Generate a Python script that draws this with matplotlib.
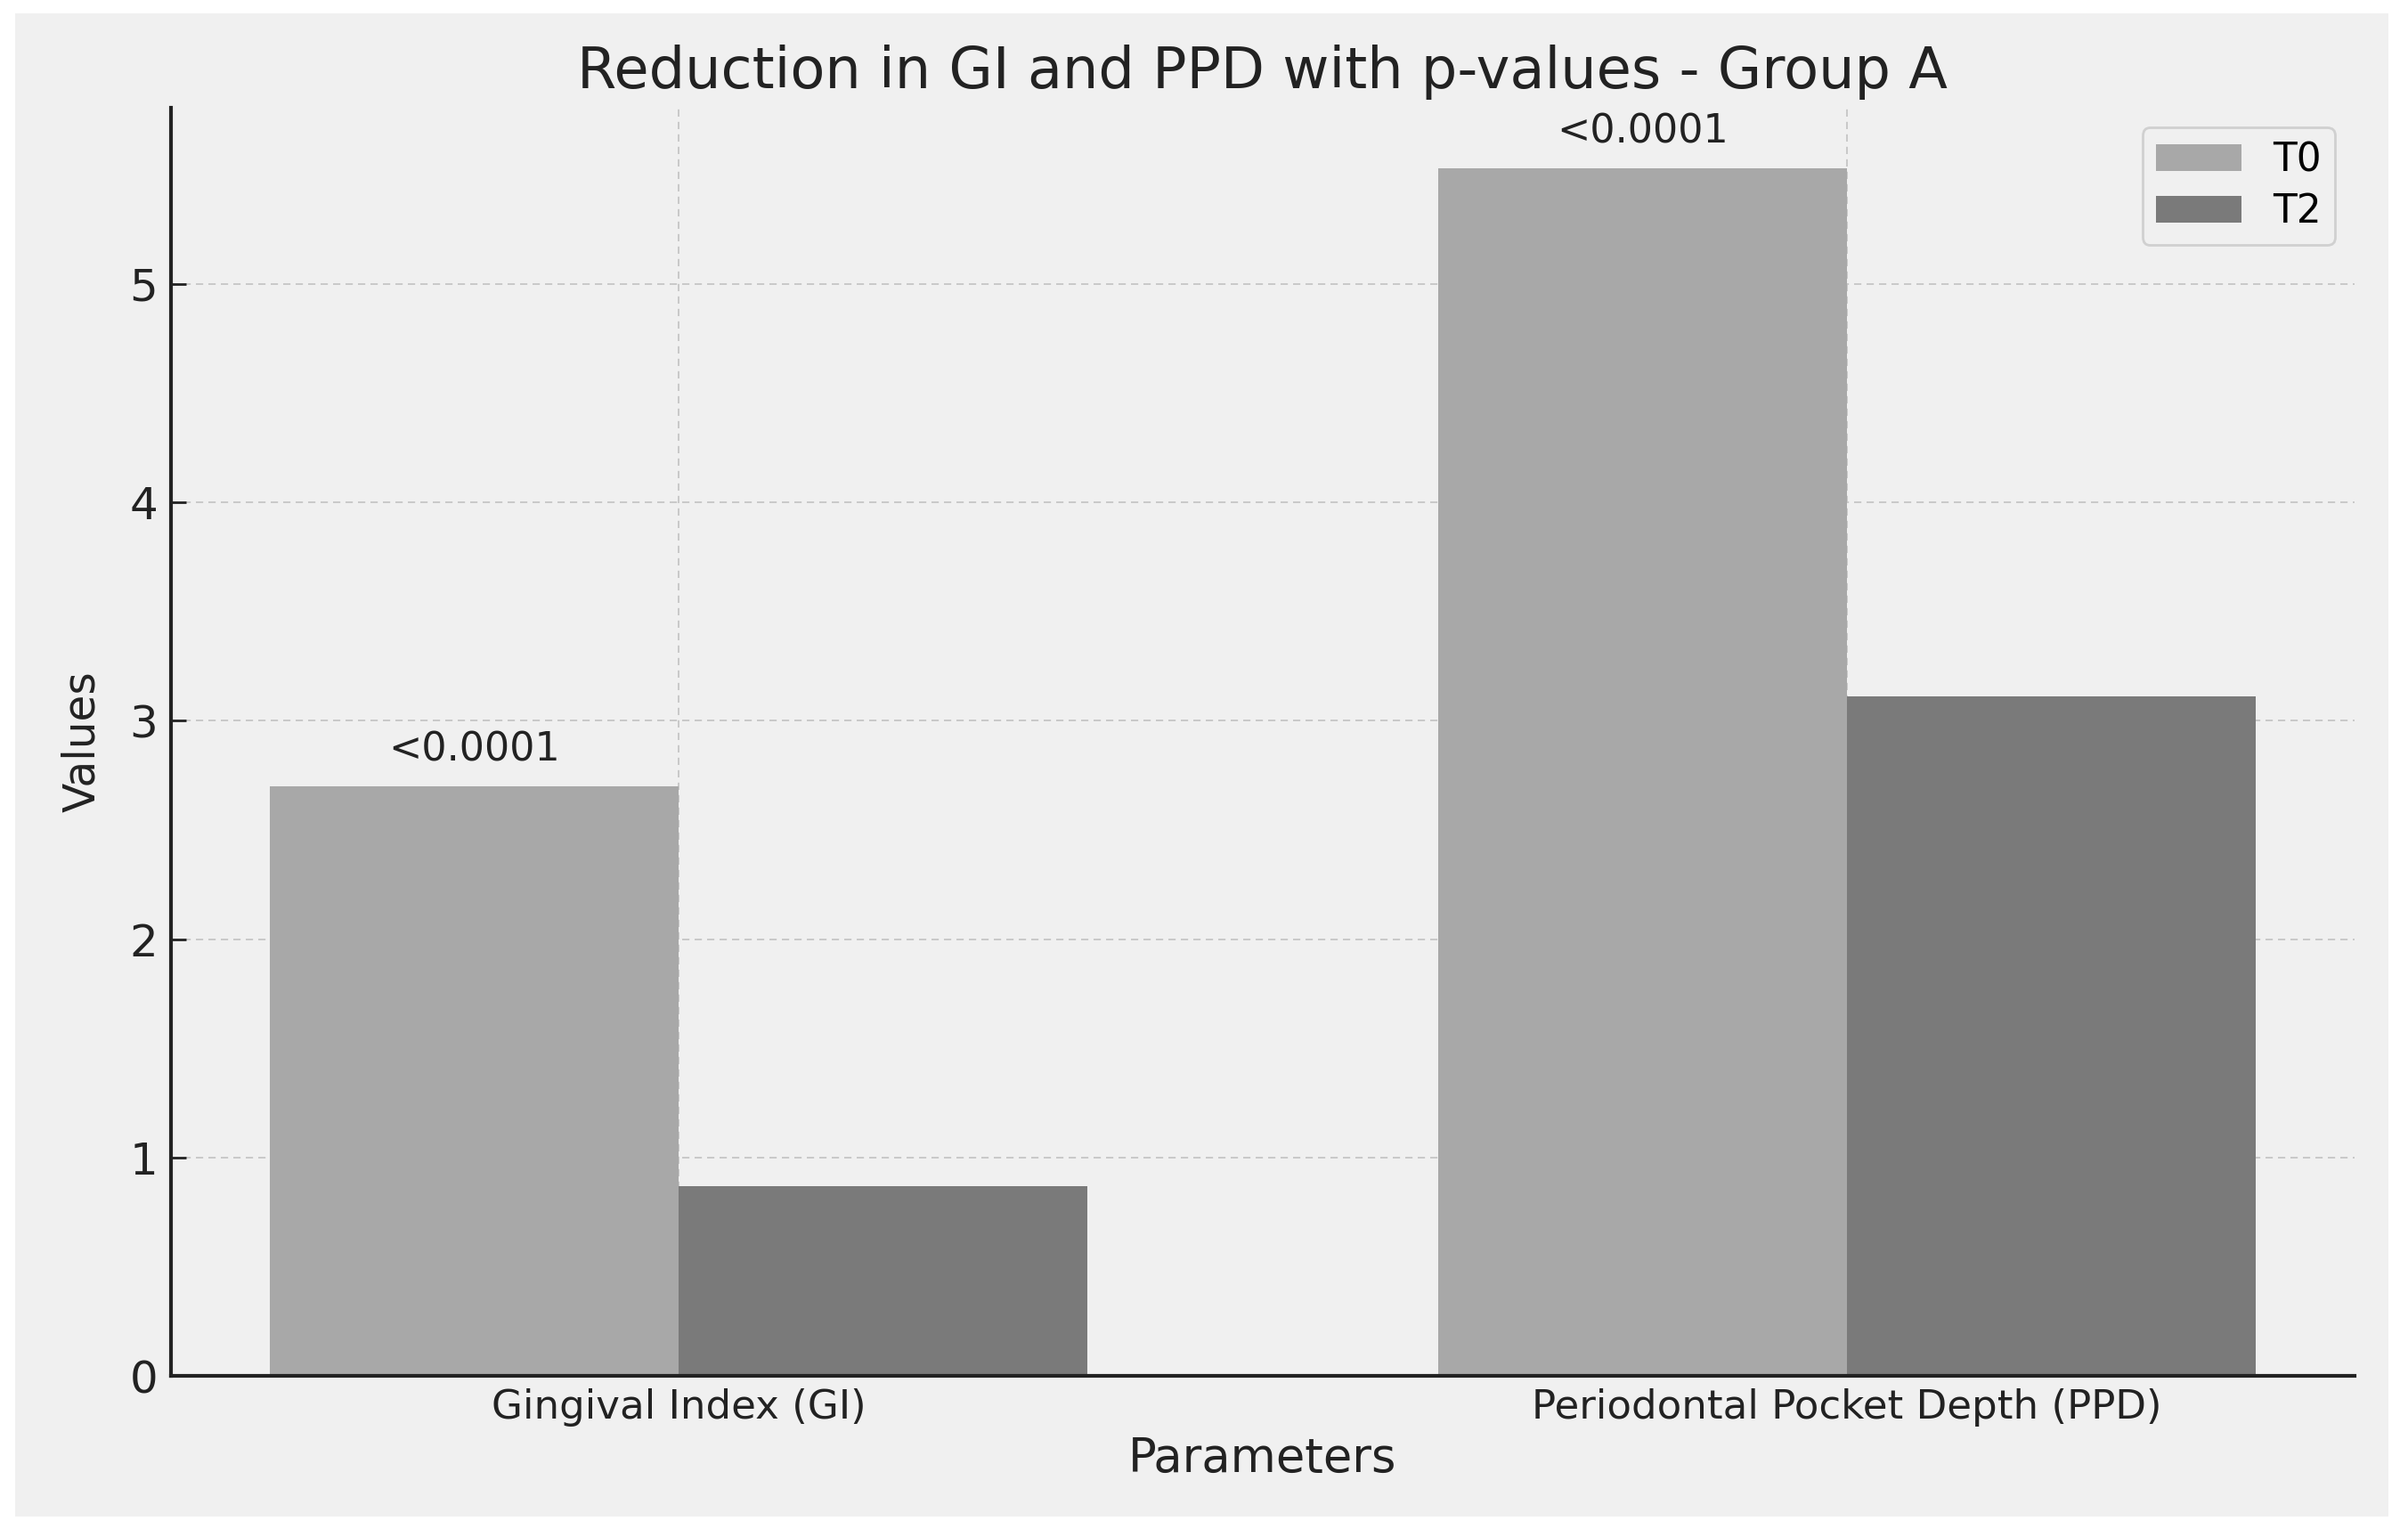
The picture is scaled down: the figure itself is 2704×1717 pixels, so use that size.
import numpy as np
import matplotlib
matplotlib.use("Agg")
import matplotlib.pyplot as plt
from matplotlib.patches import Rectangle

# data
parameters = ["Gingival Index (GI)", "Periodontal Pocket Depth (PPD)"]
t0_values = [2.70, 5.53]
t2_values = [0.87, 3.11]
p_values = ["<0.0001", "<0.0001"]
series_labels = ["T0", "T2"]

W, H, DPI = 2704, 1717, 100
bg = "#f0f0f0"
ink = "#222222"

fig = plt.figure(figsize=(W / DPI, H / DPI), dpi=DPI, facecolor="white")
# grey panel inside a thin white border
fig.patches.append(Rectangle((17 / W, 14 / H), (2682 - 17) / W, (1703 - 15) / H,
                             transform=fig.transFigure, facecolor=bg, edgecolor="none", zorder=-5))

ax = fig.add_axes([192 / W, 1 - 1545 / H, (2644 - 192) / W, (1545 - 121) / H])
ax.set_facecolor(bg)

x = np.arange(len(parameters))
width = 0.35
ax.bar(x - width / 2, t0_values, width, label=series_labels[0], color="#a8a8a8", zorder=2)
ax.bar(x + width / 2, t2_values, width, label=series_labels[1], color="#7a7a7a", zorder=2)

for i in range(len(parameters)):
    ax.text(x[i] - width / 2, t0_values[i] + 0.08, p_values[i], ha="center", va="bottom",
            fontsize=32, color=ink)

ax.set_xticks(x)
ax.set_xticklabels(parameters)
ax.set_title("Reduction in GI and PPD with p-values - Group A", fontsize=46, color=ink, pad=16)
ax.set_xlabel("Parameters", fontsize=38, color=ink, labelpad=7)
ax.set_ylabel("Values", fontsize=35, color=ink, labelpad=21)

ax.tick_params(axis="both", direction="in", length=12, width=2, colors=ink)
ax.tick_params(axis="y", pad=10.5, labelsize=36)
ax.tick_params(axis="x", pad=10, labelsize=32.5)

ax.grid(True, linestyle=(0, (4.2, 3)), color="#c8c8c8", linewidth=1.4, zorder=0)
ax.set_axisbelow(True)

for s in ["top", "right"]:
    ax.spines[s].set_visible(False)
for s in ["left", "bottom"]:
    ax.spines[s].set_linewidth(3)
    ax.spines[s].set_color(ink)

leg = ax.legend(loc="upper right", fontsize=31.5, frameon=True, facecolor=bg, edgecolor="#c8c8c8",
                handlelength=2.2, labelspacing=0.35, borderpad=0.35)
leg.get_frame().set_linewidth(2)

fig.savefig("out.png", dpi=DPI, facecolor="white")
